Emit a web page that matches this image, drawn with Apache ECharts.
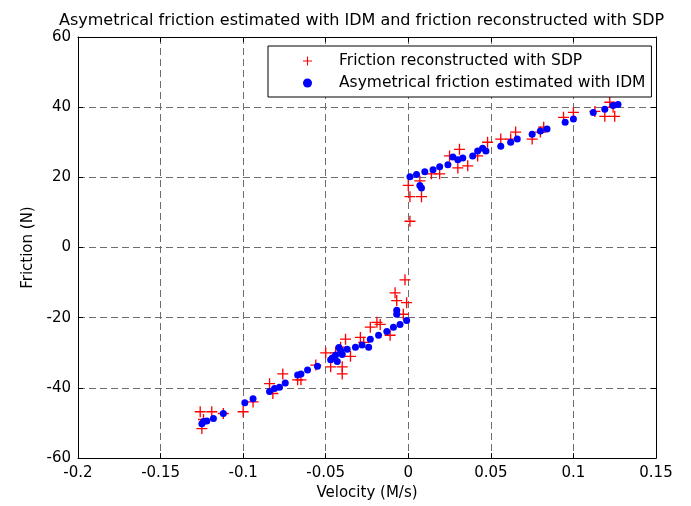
<!DOCTYPE html>
<html><head><meta charset="utf-8">
<script src="https://cdn.jsdelivr.net/npm/echarts@6/dist/echarts.min.js"></script>
<style>html,body{margin:0;padding:0;background:#fff}#c{width:691px;height:506px}</style>
</head><body><div id="c"></div>
<script>
const titleText = 'Asymetrical friction estimated with IDM and friction reconstructed with SDP';
const xName = 'Velocity (M/s)';
const yName = 'Friction (N)';
const sdpName = 'Friction reconstructed with SDP';
const idmName = 'Asymetrical friction estimated with IDM';

const sdpV = [-0.126,-0.119,-0.125,-0.124,-0.112,-0.100,-0.094,-0.084,-0.076,-0.082,-0.067,-0.065,-0.056,-0.047,-0.040,-0.040,-0.038,-0.041,-0.029,-0.023,-0.017,-0.011,-0.008,-0.007,-0.002,-0.001,-0.003,-0.019,-0.027,-0.044,-0.050,-0.035,
  0.000,0.001,0.008,0.001,0.014,0.019,0.030,0.031,0.036,0.042,0.048,0.056,0.065,0.075,0.007,0.025,0.062,0.080,0.082,0.094,0.100,0.113,0.119,0.125,0.122,0.124];
const sdpF = [-46.8,-46.8,-51.6,-49,-47.3,-46.8,-44,-38.8,-36,-41.6,-37.7,-37.7,-33.5,-34,-34,-36,-26.1,-28.4,-25.6,-22.7,-21.9,-25,-12.9,-15.1,-9.2,-15.7,-19,-21.3,-27,-30,-30,-31,
  17.7,14.5,14.5,7.5,21,21,22.7,28,23.3,26.1,30,30.9,32.9,30.9,19,26.1,30.9,32.9,34.3,37.1,38.5,38.8,37.4,37.4,41.4,40];

const idmV = [-0.125,-0.124,-0.122,-0.118,-0.112,-0.099,-0.094,-0.084,-0.081,-0.078,-0.0745,-0.067,-0.065,-0.061,-0.055,-0.047,-0.044,-0.041,-0.037,-0.032,-0.028,-0.024,-0.023,-0.018,-0.013,-0.009,-0.005,-0.001,-0.007,-0.007,-0.046,-0.043,-0.040,-0.042,
  0.001,0.005,0.010,0.015,0.019,0.024,0.027,0.030,0.033,0.039,0.042,0.047,0.045,0.056,0.062,0.066,0.075,0.080,0.084,0.095,0.100,0.112,0.119,0.124,0.127,0.007,0.008];
const idmF = [-50.2,-49.6,-49.4,-48.7,-47.3,-44.2,-43.1,-41,-40.2,-39.8,-38.6,-36.3,-36,-34.9,-33.8,-32,-30.6,-29.3,-29,-28.4,-27.8,-28.4,-26.1,-25,-23.9,-22.7,-21.9,-20.8,-17.9,-19,-31.5,-32.5,-30.5,-28.5,
  20.2,20.8,21.6,22.2,23,23.6,25.8,25,25.5,26.1,27.5,27.5,28.3,28.9,30,30.9,32.3,33.2,33.8,35.7,36.6,38.5,39.4,40.5,40.8,17.7,17];

const plusPath = 'path://M4.4,0H5.6V4.4H10V5.6H5.6V10H4.4V5.6H0V4.4H4.4Z';
const FONT = '"DejaVu Sans", sans-serif';
const fmtX = v => String(+v.toFixed(2));
const grid = {left:78, right:35, top:37, bottom:44};
const splitLine = {show:true, lineStyle:{color:'#6e6e6e', width:1, type:[7,4]}};
const axisLine = {show:true, onZero:false, lineStyle:{color:'#000', width:1}};
const tick = {show:true, inside:true, length:5, lineStyle:{color:'#000'}};

const chart = echarts.init(document.getElementById('c'), null, {renderer:'canvas'});
chart.setOption({
  animation:false,
  backgroundColor:'#fff',
  title:{text:titleText, left:54, top:8, textStyle:{fontFamily:FONT, fontSize:16, fontWeight:'normal', color:'#000'}},
  legend:{
    orient:'vertical', left:268, top:46,
    backgroundColor:'#fff', borderColor:'#000', borderWidth:1, borderRadius:0,
    padding:[6,6,5,35], itemGap:4, itemWidth:9, itemHeight:9,
    textStyle:{fontFamily:FONT, fontSize:15.5, lineHeight:18, color:'#000', padding:[0,0,0,22]},
    data:[{name:sdpName, icon:plusPath, itemStyle:{color:'#ff0000'}},{name:idmName, icon:'circle', itemStyle:{color:'#0000ff'}}]
  },
  grid:grid,
  xAxis:[
    {type:'value', min:-0.2, max:0.15, interval:0.05, position:'bottom',
     name:xName, nameLocation:'middle', nameGap:24, nameTextStyle:{fontFamily:FONT, fontSize:15, color:'#000'},
     axisLine:axisLine, axisTick:tick, splitLine:splitLine,
     axisLabel:{formatter:fmtX, fontFamily:FONT, fontSize:15, color:'#000', margin:8}},
    {type:'value', min:-0.2, max:0.15, interval:0.05, position:'top',
     axisLine:axisLine, axisTick:tick, splitLine:{show:false}, axisLabel:{show:false}}
  ],
  yAxis:[
    {type:'value', min:-60, max:60, interval:20, position:'left',
     name:yName, nameLocation:'middle', nameGap:42, nameTextStyle:{fontFamily:FONT, fontSize:15, color:'#000'},
     axisLine:axisLine, axisTick:tick, splitLine:splitLine,
     axisLabel:{fontFamily:FONT, fontSize:15, color:'#000', margin:7}},
    {type:'value', min:-60, max:60, interval:20, position:'right',
     axisLine:axisLine, axisTick:tick, splitLine:{show:false}, axisLabel:{show:false}}
  ],
  series:[
    {name:sdpName, type:'scatter', symbol:plusPath, symbolSize:11, itemStyle:{color:'#ff0000', opacity:1},
     data:sdpV.map((v,i)=>[v, sdpF[i]]), z:2},
    {name:idmName, type:'scatter', symbol:'circle', symbolSize:7, itemStyle:{color:'#0000ff', opacity:1},
     data:idmV.map((v,i)=>[v, idmF[i]]), z:3}
  ]
});
</script></body></html>
